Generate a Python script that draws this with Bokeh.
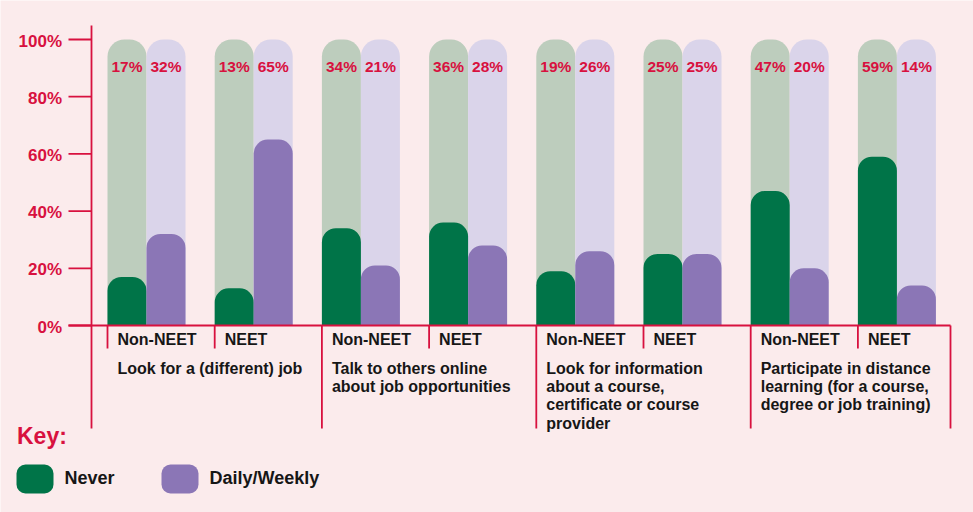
from bokeh.plotting import figure
from bokeh.models import Range1d, ColumnDataSource
from bokeh.core.properties import value
from bokeh.embed import file_html
from bokeh.resources import INLINE

# ---------------- data ----------------
categories = [
    "Look for a (different) job",
    "Talk to others online\nabout job opportunities",
    "Look for information\nabout a course,\ncertificate or course\nprovider",
    "Participate in distance\nlearning (for a course,\ndegree or job training)",
]
groups = ["Non-NEET", "NEET"]
never = [17, 13, 34, 36, 19, 25, 47, 59]
daily_weekly = [32, 65, 21, 28, 26, 25, 20, 14]
y_ticks = [0, 20, 40, 60, 80, 100]
y_tick_labels = ["0%", "20%", "40%", "60%", "80%", "100%"]
series_names = ["Never", "Daily/Weekly"]

# ---------------- style ----------------
BG = "#fbebec"
CRIMSON = "#d8113f"
GREEN = "#007448"
GREEN_L = "#bdcdbd"
PURPLE = "#8b76b6"
PURPLE_L = "#dad4ea"
INK = "#161616"
FONT = value("Liberation Sans")

W, H = 973, 512
UX = 107.2        # px per sub-group
UY = 2.86         # px per percent
X0_IMG, Y0_IMG = 107, 325   # image px of data origin
SH = -6.5         # text baseline correction (px)

def fx(X):  # image px -> data x
    return (X - X0_IMG) / UX

def fy(Y):  # image px -> data y
    return (Y0_IMG - Y) / UY

x_start = fx(0)
y_end = fy(0)
p = figure(width=W, height=H, output_backend="svg", toolbar_location=None,
           x_range=Range1d(x_start, x_start + W / UX),
           y_range=Range1d(y_end - H / UY, y_end),
           x_axis_type=None, y_axis_type=None, min_border=0)
p.grid.visible = False
p.outline_line_color = None
p.background_fill_color = BG
p.border_fill_color = BG

n = len(never)
bw = 39 / UX
starts = list(range(n))
cx_never = [s + bw / 2 for s in starts]
cx_daily = [s + 1.5 * bw for s in starts]

# background (100%) bars
p.vbar(x=cx_never, top=[100] * n, bottom=0, width=bw, fill_color=GREEN_L,
       line_color=None, border_radius=(17, 17, 0, 0))
p.vbar(x=cx_daily, top=[100] * n, bottom=0, width=bw, fill_color=PURPLE_L,
       line_color=None, border_radius=(17, 17, 0, 0))
# value bars
p.vbar(x=cx_never, top=never, bottom=0, width=bw, fill_color=GREEN,
       line_color=None, border_radius=(14, 14, 0, 0))
p.vbar(x=cx_daily, top=daily_weekly, bottom=0, width=bw, fill_color=PURPLE,
       line_color=None, border_radius=(14, 14, 0, 0))

# percentage labels
p.text(x=cx_never + cx_daily, y=[100] * (2 * n),
       text=[f"{v}%" for v in never + daily_weekly],
       text_font=FONT, text_font_style="bold", text_font_size="15.5px",
       text_color=CRIMSON, text_align="center", text_baseline="alphabetic",
       y_offset=33.5 + SH)

# axis line, ticks and labels
LW = 1.8
p.segment(x0=[fx(91)], y0=[fy(25)], x1=[fx(91)], y1=[fy(428)],
          line_color=CRIMSON, line_width=LW)
p.segment(x0=[fx(68)] * len(y_ticks), y0=y_ticks, x1=[fx(91)] * len(y_ticks), y1=y_ticks,
          line_color=CRIMSON, line_width=LW)
p.text(x=[fx(61.5)] * len(y_ticks), y=y_ticks, text=y_tick_labels,
       text_font=FONT, text_font_style="bold", text_font_size="17px",
       text_color=CRIMSON, text_align="right", text_baseline="alphabetic",
       y_offset=6.5 + SH + 1.5)

# baseline and separators
p.segment(x0=[fx(68)], y0=[0], x1=[fx(950)], y1=[0], line_color=CRIMSON, line_width=LW)
short_x = [s for s in starts if s % 2 == 1 or s == 0]
long_x = [s for s in starts if s % 2 == 0 and s > 0] + [fx(950)]
p.segment(x0=short_x, y0=[0] * len(short_x), x1=short_x, y1=[fy(348)] * len(short_x),
          line_color=CRIMSON, line_width=LW)
p.segment(x0=long_x, y0=[0] * len(long_x), x1=long_x, y1=[fy(428)] * len(long_x),
          line_color=CRIMSON, line_width=LW)

# group labels
p.text(x=starts, y=[0] * n, text=[groups[i % 2] for i in starts],
       text_font=FONT, text_font_style="bold", text_font_size="16px",
       text_color=INK, text_align="left", text_baseline="alphabetic",
       x_offset=10, y_offset=20.7 + SH)

# category descriptions (one glyph per line)
cat_x, cat_y, cat_t, cat_off = [], [], [], []
for ci, cat in enumerate(categories):
    for k, line in enumerate(cat.split("\n")):
        cat_x.append(2 * ci)
        cat_y.append(0)
        cat_t.append(line)
        cat_off.append(49 + SH + 18.4 * k)
src = ColumnDataSource(dict(x=cat_x, y=cat_y, t=cat_t, off=cat_off))
p.text(x="x", y="y", text="t", y_offset="off", source=src,
       text_font=FONT, text_font_style="bold", text_font_size="16px",
       text_color=INK, text_align="left", text_baseline="alphabetic", x_offset=10)

# key
p.text(x=[fx(16.5)], y=[fy(441.7)], text=["Key:"],
       text_font=FONT, text_font_style="bold", text_font_size="23px",
       text_color=CRIMSON, text_align="left", text_baseline="alphabetic",
       y_offset=SH)
p.quad(left=[fx(16), fx(161)], right=[fx(53), fx(198)],
       top=[fy(464)] * 2, bottom=[fy(493)] * 2,
       fill_color=[GREEN, PURPLE], line_color=None, border_radius=9)
p.text(x=[fx(64), fx(209)], y=[fy(484)] * 2, text=series_names,
       text_font=FONT, text_font_style="bold", text_font_size="18px",
       text_color=INK, text_align="left", text_baseline="alphabetic",
       y_offset=SH)

open("out.html", "w").write(file_html(p, INLINE))
